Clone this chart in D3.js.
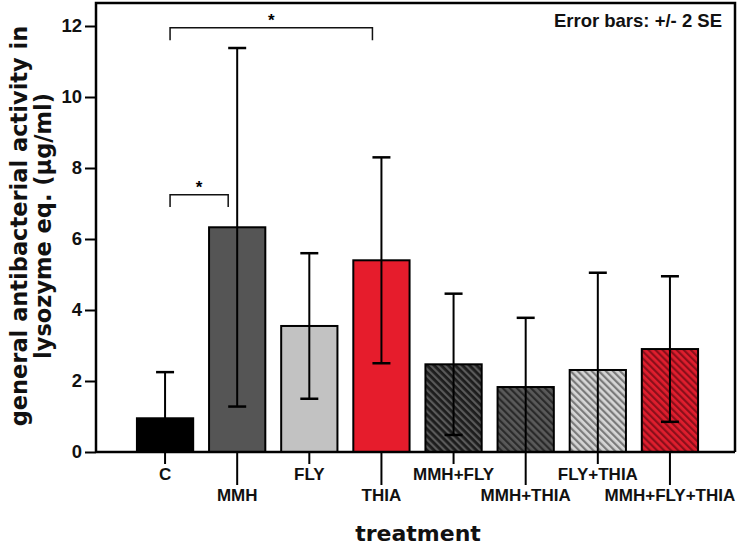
<!DOCTYPE html>
<html><head><meta charset="utf-8">
<script src="https://cdn.jsdelivr.net/npm/d3@7"></script>
<style>body{margin:0;background:#fff}svg{display:block}</style>
</head><body>
<svg id="chart" width="745" height="546"></svg>
<script>
const categories = ["C","MMH","FLY","THIA","MMH+FLY","MMH+THIA","FLY+THIA","MMH+FLY+THIA"];
const means = [0.95, 6.33, 3.55, 5.40, 2.47, 1.83, 2.31, 2.90];
const errs  = [1.30, 5.05, 2.05, 2.90, 1.99, 1.95, 2.74, 2.05];
const yTicks = [0,2,4,6,8,10,12];
const fills = ["#000000","#555555","#c2c2c2","#e61c2c","h0","h1","h2","h3"];
const hatches = [
  {id:"h0", bg:"#1c1c1c", fg:"#5a5a5a"},
  {id:"h1", bg:"#5a5a5a", fg:"#2a2a2a"},
  {id:"h2", bg:"#d6d6d6", fg:"#7a7a7a"},
  {id:"h3", bg:"#e01e2e", fg:"#8a0f1a"}
];
const sigPairs = [{a:0,b:3,y:11.95,d:0.35},{a:0,b:1,y:7.25,d:0.35}];

const svg = d3.select("#chart");
const x = d3.scaleBand().domain(categories).range([129,706]).paddingInner(0.22).paddingOuter(0.11);
const y = d3.scaleLinear().domain([0,12]).range([452,26]);
const mLeft = 96, mRight = 735, mTop = 3;

const defs = svg.append("defs");
hatches.forEach(h => {
  const p = defs.append("pattern").attr("id",h.id).attr("patternUnits","userSpaceOnUse")
    .attr("width",5).attr("height",5).attr("patternTransform","rotate(-45)");
  p.append("rect").attr("width",5).attr("height",5).attr("fill",h.bg);
  p.append("rect").attr("x",0).attr("y",0).attr("width",2.2).attr("height",5).attr("fill",h.fg);
});

// frame
svg.append("path").attr("d",`M${mLeft},${y(0)}V${mTop}H${mRight}V${y(0)}`)
  .attr("fill","none").attr("stroke","#000").attr("stroke-width",2.5);

// bars
svg.append("g").selectAll("rect").data(categories).join("rect")
  .attr("x",d=>x(d)).attr("width",x.bandwidth())
  .attr("y",(d,i)=>y(means[i])).attr("height",(d,i)=>y(0)-y(means[i]))
  .attr("fill",(d,i)=>fills[i].startsWith("h")?`url(#${fills[i]})`:fills[i])
  .attr("stroke","#000").attr("stroke-width",2);

// error bars
const eb = svg.append("g").attr("stroke","#000").attr("stroke-width",2).attr("fill","none");
categories.forEach((c,i)=>{
  const cx = x(c)+x.bandwidth()/2;
  const hi = means[i]+errs[i], lo = Math.max(0, means[i]-errs[i]);
  eb.append("line").attr("x1",cx).attr("x2",cx).attr("y1",y(hi)).attr("y2",y(lo));
  eb.append("line").attr("x1",cx-9).attr("x2",cx+9).attr("y1",y(hi)).attr("y2",y(hi)).attr("stroke-width",2.5);
  if (means[i]-errs[i] > 0)
    eb.append("line").attr("x1",cx-9).attr("x2",cx+9).attr("y1",y(lo)).attr("y2",y(lo)).attr("stroke-width",2.5);
});

// bottom axis line
svg.append("line").attr("x1",mLeft).attr("x2",mRight).attr("y1",y(0)).attr("y2",y(0))
  .attr("stroke","#000").attr("stroke-width",2.5);

// y axis
const ya = svg.append("g").attr("transform",`translate(${mLeft},0)`)
  .call(d3.axisLeft(y).tickValues(yTicks).tickSize(11).tickPadding(3).tickFormat(d3.format("d")));
ya.select(".domain").remove();
ya.selectAll("line").attr("stroke","#000").attr("stroke-width",2);
ya.selectAll("text").attr("font-family","Liberation Sans, Arial, sans-serif").attr("font-weight","bold")
  .attr("font-size",18.5).attr("fill","#111");

// x axis
const xa = svg.append("g").attr("transform",`translate(0,${y(0)})`)
  .call(d3.axisBottom(x).tickSize(12).tickPadding(4));
xa.select(".domain").remove();
xa.selectAll(".tick line").attr("stroke","#000").attr("stroke-width",2)
  .attr("y2",(d,i)=> i%2 ? 33 : 12);
xa.selectAll(".tick text").attr("font-family","Liberation Sans, Arial, sans-serif").attr("font-weight","bold")
  .attr("font-size",17).attr("fill","#111")
  .attr("y",(d,i)=> i%2 ? 37 : 16);

// significance brackets
sigPairs.forEach(s=>{
  const x1 = x(categories[s.a])+x.bandwidth()/2+5, x2 = x(categories[s.b])+x.bandwidth()/2-9;
  svg.append("path").attr("d",`M${x1},${y(s.y-s.d)}V${y(s.y)}H${x2}V${y(s.y-s.d)}`)
    .attr("fill","none").attr("stroke","#111").attr("stroke-width",1.5);
  svg.append("text").attr("x",(x1+x2)/2).attr("y",y(s.y)-2).attr("text-anchor","middle")
    .attr("font-family","Liberation Sans, Arial, sans-serif").attr("font-weight","bold").attr("font-size",17)
    .text("*");
});

// annotation
svg.append("text").attr("x",722).attr("y",27).attr("text-anchor","end")
  .attr("font-family","Liberation Sans, Arial, sans-serif").attr("font-weight","bold").attr("font-size",18.5)
  .attr("fill","#111").text("Error bars: +/- 2 SE");

// axis titles
svg.append("text").attr("x",418).attr("y",541).attr("text-anchor","middle")
  .attr("font-family","DejaVu Sans, sans-serif").attr("font-weight","bold").attr("font-size",22)
  .attr("fill","#111").text("treatment");
const yl = svg.append("text").attr("transform","translate(0,226) rotate(-90)").attr("text-anchor","middle")
  .attr("font-family","DejaVu Sans, sans-serif").attr("font-weight","bold").attr("font-size",22.5).attr("fill","#111");
yl.append("tspan").attr("x",0).attr("y",27).text("general antibacterial activity in");
yl.append("tspan").attr("x",0).attr("y",51).text("lysozyme eq. (µg/ml)");
</script>
</body></html>
